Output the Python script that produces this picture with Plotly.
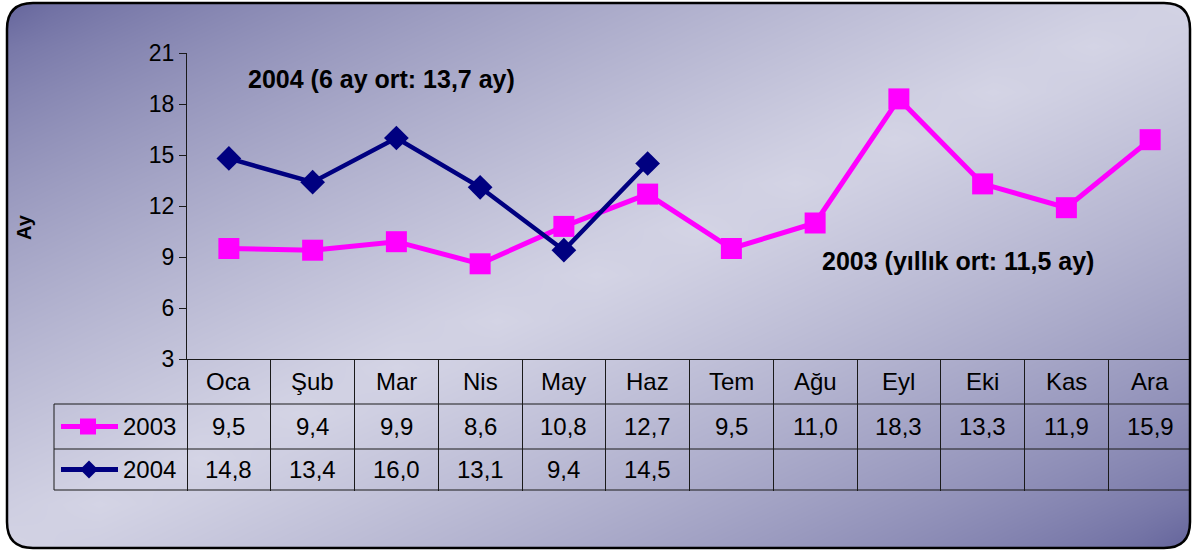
import plotly.graph_objects as go
import numpy as np

# ---------------- data ----------------
months = ["Oca", "Şub", "Mar", "Nis", "May", "Haz", "Tem", "Ağu", "Eyl", "Eki", "Kas", "Ara"]
vals_2003 = [9.5, 9.4, 9.9, 8.6, 10.8, 12.7, 9.5, 11.0, 18.3, 13.3, 11.9, 15.9]
vals_2004 = [14.8, 13.4, 16.0, 13.1, 9.4, 14.5]
series_names = ["2003", "2004"]
note_2004 = "2004 (6 ay ort: 13,7 ay)"
note_2003 = "2003 (yıllık ort: 11,5 ay)"
y_title = "Ay"

W, H = 1192, 550
FONT = "Arial, Liberation Sans, sans-serif"
MAG = "#FF00FF"
NAVY = "#000080"

def fmt(v):
    return f"{v:.1f}".replace(".", ",")

fig = go.Figure()

# ---------------- background gradient (decoration) ----------------
gx = np.linspace(0, W, 25)
gy = np.linspace(0, H, 13)
GX, GY = np.meshgrid(gx, gy)
t = (GX / W + GY / H) / 2
zbg = (1 - np.abs(2 * t - 1)) ** 0.7
fig.add_trace(go.Heatmap(x=gx, y=gy, z=zbg, zsmooth="best", showscale=False,
                         colorscale=[[0, "#62629a"], [1, "#d4d4e5"]],
                         hoverinfo="skip", xaxis="x", yaxis="y"))

# ---------------- data series ----------------
fig.add_trace(go.Scatter(x=months, y=vals_2003, mode="lines+markers", name=series_names[0],
                         line=dict(color=MAG, width=5),
                         marker=dict(symbol="square", size=21, color=MAG),
                         xaxis="x2", yaxis="y2", showlegend=False))
fig.add_trace(go.Scatter(x=months[:len(vals_2004)], y=vals_2004, mode="lines+markers",
                         name=series_names[1],
                         line=dict(color=NAVY, width=4.5),
                         marker=dict(symbol="diamond", size=19, color=NAVY),
                         xaxis="x2", yaxis="y2", showlegend=False))

# ---------------- table geometry (pixels) ----------------
x_axis_px = 187
row_lines = [404, 449, 490]
header_y = 381.5
row_y = [426.5, 469.5]
table_left = 54

shapes = []
line_col = "#1a1a1a"
for yy in row_lines:
    shapes.append(dict(type="line", xref="x", yref="y", x0=table_left, x1=W, y0=yy, y1=yy,
                       line=dict(color=line_col, width=1)))
shapes.append(dict(type="line", xref="x", yref="y", x0=table_left, x1=table_left,
                   y0=row_lines[0], y1=row_lines[-1], line=dict(color=line_col, width=1)))

# legend keys inside the table
ky1, ky2 = row_y
shapes.append(dict(type="line", xref="x", yref="y", x0=61, x1=118, y0=ky1, y1=ky1,
                   line=dict(color=MAG, width=5)))
shapes.append(dict(type="rect", xref="x", yref="y", x0=80, x1=96, y0=ky1 - 8, y1=ky1 + 8,
                   fillcolor=MAG, line=dict(width=0)))
shapes.append(dict(type="line", xref="x", yref="y", x0=61, x1=118, y0=ky2, y1=ky2,
                   line=dict(color=NAVY, width=5)))
shapes.append(dict(type="path", xref="x", yref="y",
                   path=f"M 89 {ky2-9} L 98 {ky2} L 89 {ky2+9} L 80 {ky2} Z",
                   fillcolor=NAVY, line=dict(width=0)))

# white outside rounded frame + frame border
L, T, R, B, r = 7, 3, 1190, 548, 26
rounded = (f"M {L+r} {T} L {R-r} {T} Q {R} {T} {R} {T+r} L {R} {B-r} Q {R} {B} {R-r} {B} "
           f"L {L+r} {B} Q {L} {B} {L} {B-r} L {L} {T+r} Q {L} {T} {L+r} {T} Z")
rounded_rev = (f"M {L+r} {T} Q {L} {T} {L} {T+r} L {L} {B-r} Q {L} {B} {L+r} {B} "
               f"L {R-r} {B} Q {R} {B} {R} {B-r} L {R} {T+r} Q {R} {T} {R-r} {T} Z")
outer = f"M -5 -5 L {W+5} -5 L {W+5} {H+5} L -5 {H+5} Z "
shapes.append(dict(type="path", xref="x", yref="y", path=outer + rounded_rev,
                   fillcolor="white", line=dict(width=0)))
shapes.append(dict(type="path", xref="x", yref="y", path=rounded,
                   fillcolor="rgba(0,0,0,0)", line=dict(color="black", width=2.5)))

# ---------------- text ----------------
ann = []
tf = dict(family=FONT, size=24, color="black")
for i, m in enumerate(months):
    ann.append(dict(xref="x2", yref="y", x=m, y=header_y, text=m, showarrow=False, font=tf,
                    xanchor="center", yanchor="middle"))
for i, v in enumerate(vals_2003):
    ann.append(dict(xref="x2", yref="y", x=months[i], y=row_y[0], text=fmt(v), showarrow=False,
                    font=tf, xanchor="center", yanchor="middle"))
for i, v in enumerate(vals_2004):
    ann.append(dict(xref="x2", yref="y", x=months[i], y=row_y[1], text=fmt(v), showarrow=False,
                    font=tf, xanchor="center", yanchor="middle"))
for name, yy in zip(series_names, row_y):
    ann.append(dict(xref="x", yref="y", x=121, y=yy, text=name, showarrow=False, font=tf,
                    xanchor="left", yanchor="middle"))

bf = dict(family=FONT, size=25, color="black")
ann.append(dict(xref="x", yref="y", x=246, y=79, text=f"<b>{note_2004}</b>", showarrow=False,
                font=bf, xanchor="left", yanchor="middle"))
ann.append(dict(xref="x", yref="y", x=820, y=261, text=f"<b>{note_2003}</b>", showarrow=False,
                font=bf, xanchor="left", yanchor="middle"))
ann.append(dict(xref="x", yref="y", x=24, y=227, text=f"<b>{y_title}</b>", showarrow=False,
                textangle=-90, font=dict(family=FONT, size=20, color="black"),
                xanchor="center", yanchor="middle"))

fig.update_layout(
    template="none",
    width=W, height=H,
    margin=dict(l=0, r=0, t=0, b=0, pad=0, autoexpand=False),
    paper_bgcolor="white", plot_bgcolor="rgba(0,0,0,0)",
    font=dict(family=FONT, color="black"),
    xaxis=dict(domain=[0, 1], range=[0, W], visible=False, fixedrange=True, automargin=False),
    yaxis=dict(domain=[0, 1], range=[H, 0], visible=False, fixedrange=True, automargin=False),
    xaxis2=dict(domain=[x_axis_px / W, 1], anchor="y2", type="category", automargin=False,
                categoryorder="array", categoryarray=months, range=[-0.5, len(months) - 0.5],
                showgrid=False, zeroline=False, showline=True, linecolor=line_col, linewidth=1,
                ticks="outside", tickson="boundaries", ticklen=row_lines[-1] - 359,
                tickcolor=line_col, tickwidth=1, showticklabels=False),
    yaxis2=dict(domain=[1 - 359 / H, 1 - 53 / H], anchor="x2", range=[3, 21], dtick=3, tick0=3,
                automargin=False,
                showgrid=False, zeroline=False, showline=True, linecolor=line_col, linewidth=1,
                ticks="outside", ticklen=7, tickcolor=line_col,
                tickfont=dict(family=FONT, size=23, color="black")),
    shapes=shapes, annotations=ann, showlegend=False,
)

fig.write_html("out.html", config={"displayModeBar": False},
               post_script="document.body.style.margin='0';document.body.style.overflow='hidden';")
